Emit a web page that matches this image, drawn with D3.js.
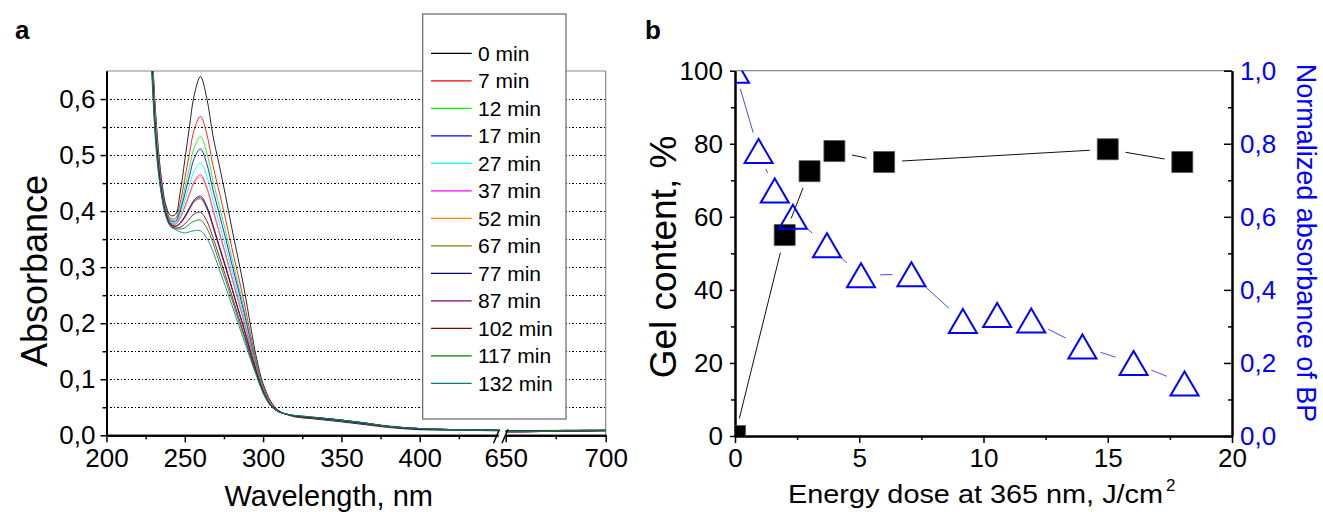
<!DOCTYPE html>
<html><head><meta charset="utf-8">
<script src="https://cdn.jsdelivr.net/npm/d3@7"></script>
<style>
body{margin:0;background:#fff}
svg{display:block}
text{font-family:"Liberation Sans",Arial,sans-serif}
</style>
</head><body>
<svg id="c" width="1323" height="512"></svg>
<script>
// ---------------- DATA ----------------
// Panel a: UV spectra (wavelength, nm -> absorbance)
const wavelengths = [226,229,232,235,238,241,244,247,250,253,256,260,264,268,272,276,280,284,288,292,296,300,305,310,316,322,330,340,350,365,380,400,425,450];
const wavelengthsFar = [650,660,670,680,690,700];
const timeLabels = ["0 min","7 min","12 min","17 min","27 min","37 min","52 min","67 min","77 min","87 min","102 min","117 min","132 min"];

const abs_0min   = [.90,.70,.55,.46,.41,.392,.394,.432,.491,.551,.607,.640,.602,.534,.482,.428,.370,.316,.260,.195,.135,.092,.060,.044,.036,.032,.030,.027,.024,.019,.014,.010,.009,.008];
const abs_7min   = [.89,.69,.545,.455,.405,.387,.387,.414,.458,.503,.545,.569,.538,.481,.434,.386,.335,.286,.236,.180,.127,.088,.058,.044,.037,.034,.032,.029,.027,.021,.016,.012,.010,.009];
const abs_12min  = [.89,.685,.54,.45,.402,.384,.384,.405,.441,.478,.513,.533,.505,.454,.410,.365,.317,.271,.224,.172,.123,.085,.057,.043,.037,.034,.032,.030,.027,.022,.016,.012,.010,.009];
const abs_17min  = [.885,.68,.535,.45,.401,.383,.381,.400,.430,.463,.494,.511,.485,.438,.395,.352,.306,.262,.217,.167,.120,.084,.056,.043,.037,.034,.032,.029,.026,.021,.016,.011,.010,.009];
const abs_27min  = [.88,.675,.53,.445,.399,.381,.379,.393,.418,.446,.472,.486,.463,.419,.378,.337,.294,.251,.209,.162,.118,.083,.055,.042,.037,.034,.032,.030,.027,.022,.016,.012,.010,.009];
const abs_37min  = [.88,.67,.525,.445,.397,.379,.377,.388,.408,.431,.453,.465,.443,.403,.363,.324,.283,.242,.201,.157,.115,.081,.055,.042,.037,.034,.032,.030,.027,.022,.016,.012,.010,.009];
const abs_52min  = [.88,.67,.525,.44,.397,.379,.376,.387,.407,.429,.450,.461,.440,.400,.361,.322,.281,.241,.200,.156,.115,.081,.055,.042,.037,.035,.033,.030,.027,.022,.017,.012,.010,.009];
const abs_67min  = [.875,.665,.52,.44,.394,.376,.373,.378,.388,.403,.416,.422,.405,.371,.335,.299,.262,.224,.187,.148,.111,.079,.053,.042,.037,.034,.032,.030,.027,.021,.016,.012,.010,.009];
const abs_77min  = [.875,.66,.515,.438,.395,.377,.373,.379,.391,.406,.420,.427,.409,.375,.338,.302,.264,.226,.189,.149,.111,.079,.053,.042,.037,.034,.032,.029,.026,.021,.016,.011,.010,.009];
const abs_87min  = [.87,.66,.515,.436,.394,.376,.373,.378,.389,.404,.418,.424,.406,.373,.336,.300,.263,.225,.188,.148,.111,.079,.053,.042,.037,.034,.032,.030,.027,.021,.016,.012,.010,.009];
const abs_102min = [.87,.655,.51,.434,.392,.374,.370,.371,.377,.386,.395,.398,.383,.353,.319,.285,.250,.214,.179,.142,.108,.077,.053,.042,.037,.034,.032,.030,.027,.022,.016,.012,.010,.009];
const abs_117min = [.865,.65,.505,.432,.391,.373,.369,.368,.370,.377,.382,.384,.370,.343,.309,.277,.243,.208,.175,.139,.106,.076,.052,.042,.037,.035,.033,.030,.027,.022,.016,.012,.010,.009];
const abs_132min = [.86,.64,.50,.43,.39,.372,.367,.363,.361,.363,.365,.365,.352,.328,.296,.265,.233,.200,.168,.135,.104,.075,.052,.042,.037,.035,.033,.030,.027,.022,.016,.012,.010,.009];

const absFar_0min   = [.006,.006,.007,.007,.007,.008];
const absFar_7min   = [.008,.008,.008,.009,.009,.009];
const absFar_12min  = [.007,.008,.008,.008,.009,.009];
const absFar_17min  = [.008,.007,.008,.008,.008,.009];
const absFar_27min  = [.007,.007,.008,.008,.009,.009];
const absFar_37min  = [.006,.007,.007,.008,.008,.008];
const absFar_52min  = [.008,.008,.009,.009,.009,.010];
const absFar_67min  = [.007,.007,.007,.008,.008,.009];
const absFar_77min  = [.008,.008,.008,.008,.009,.009];
const absFar_87min  = [.006,.006,.007,.007,.008,.008];
const absFar_102min = [.007,.008,.008,.008,.008,.009];
const absFar_117min = [.008,.007,.008,.009,.009,.009];
const absFar_132min = [.007,.007,.007,.008,.008,.008];

const yTicksA = [0,0.1,0.2,0.3,0.4,0.5,0.6];
const xTicksA = [200,250,300,350,400];
const xTicksAFar = [650,700];

// Panel b
const doseGel = [0,2,3,4,6,15,18];
const gelContent = [0,55,72.5,78,75,78.5,75];
const doseAbs = [0,0.95,1.6,2.33,3.7,5.07,7.1,9.17,10.55,11.92,13.98,16.04,18.09];
const normAbs = [1.0,0.78,0.672,0.60,0.522,0.44,0.443,0.315,0.331,0.316,0.245,0.20,0.144];
const xTicksB = [0,5,10,15,20];
const yTicksB = [0,20,40,60,80,100];
const yTicksB2 = [0,0.2,0.4,0.6,0.8,1.0];

// ---------------- STYLE ----------------
const palette = ["#000000","#ff0000","#00ff00","#0000ff","#00ffff","#ff00ff","#ff8000","#808000","#000080","#800080","#800000","#008000","#008080"];
const nearSeries = [abs_0min,abs_7min,abs_12min,abs_17min,abs_27min,abs_37min,abs_52min,abs_67min,abs_77min,abs_87min,abs_102min,abs_117min,abs_132min];
const farSeries = [absFar_0min,absFar_7min,absFar_12min,absFar_17min,absFar_27min,absFar_37min,absFar_52min,absFar_67min,absFar_77min,absFar_87min,absFar_102min,absFar_117min,absFar_132min];
const comma = d => d.toFixed(1).replace('.', ',');
const TICKFONT = 26;

const svg = d3.select("#c");

// ================= PANEL A =================
const PA = {l:106.5, r:605.7, t:71, b:435.3, br1:498, br2:505.7};
const xa1 = d3.scaleLinear().domain([200,450]).range([PA.l, PA.br1]);
const xa2 = d3.scaleLinear().domain([650,700]).range([PA.br2, PA.r]);
const ya = d3.scaleLinear().domain([0,0.65]).range([PA.b, PA.t]);

svg.append("clipPath").attr("id","clipA").append("rect")
  .attr("x",PA.l).attr("y",PA.t).attr("width",PA.r-PA.l).attr("height",PA.b-PA.t);

// dotted gridlines
const gridVals = d3.range(1,13).map(i => i*0.05);
svg.append("g").selectAll("line").data(gridVals).join("line")
  .attr("x1",PA.l).attr("x2",PA.r)
  .attr("y1",d=>Math.round(ya(d))+0.5).attr("y2",d=>Math.round(ya(d))+0.5)
  .attr("stroke","#000").attr("stroke-width",1).attr("stroke-dasharray","1.5,2")
  .attr("shape-rendering","crispEdges");

// frame (top / right gray)
svg.append("line").attr("x1",PA.l).attr("x2",PA.r).attr("y1",PA.t).attr("y2",PA.t).attr("stroke","#888").attr("stroke-width",1.2);
svg.append("line").attr("x1",PA.r).attr("x2",PA.r).attr("y1",PA.t).attr("y2",PA.b).attr("stroke","#888").attr("stroke-width",1.2);

// curves
const gCurves = svg.append("g").attr("clip-path","url(#clipA)");
const lineNear = d3.line().x(d=>xa1(d[0])).y(d=>ya(d[1])).curve(d3.curveCatmullRom.alpha(0.5));
const lineFar = d3.line().x(d=>xa2(d[0])).y(d=>ya(d[1])).curve(d3.curveCatmullRom.alpha(0.5));
nearSeries.forEach((s,i)=>{
  gCurves.append("path").attr("d", lineNear(wavelengths.map((w,j)=>[w,s[j]])))
    .attr("fill","none").attr("stroke",palette[i]).attr("stroke-width",1).attr("stroke-opacity",0.85);
  gCurves.append("path").attr("d", lineFar(wavelengthsFar.map((w,j)=>[w,farSeries[i][j]])))
    .attr("fill","none").attr("stroke",palette[i]).attr("stroke-width",1).attr("stroke-opacity",0.85);
});

function styleAxis(g, color){
  g.selectAll(".domain").attr("stroke","#000").attr("stroke-width",2);
  g.selectAll(".tick line").attr("stroke","#000").attr("stroke-width",1.5);
  g.selectAll("text").attr("font-size",TICKFONT).attr("font-family",'"Liberation Sans",Arial,sans-serif').attr("fill",color||"#000");
}

// x axis (two segments)
const gxa1 = svg.append("g").attr("transform",`translate(0,${PA.b})`)
  .call(d3.axisBottom(xa1).tickValues(xTicksA).tickSize(7).tickSizeOuter(0).tickPadding(6));
styleAxis(gxa1);
const gxa1m = svg.append("g").attr("transform",`translate(0,${PA.b})`)
  .call(d3.axisBottom(xa1).tickValues([225,275,325,375,425]).tickSize(4).tickSizeOuter(0).tickFormat(""));
styleAxis(gxa1m);
const gxa2 = svg.append("g").attr("transform",`translate(0,${PA.b})`)
  .call(d3.axisBottom(xa2).tickValues(xTicksAFar).tickSize(7).tickSizeOuter(0).tickPadding(6));
styleAxis(gxa2);
const gxa2m = svg.append("g").attr("transform",`translate(0,${PA.b})`)
  .call(d3.axisBottom(xa2).tickValues([675]).tickSize(4).tickSizeOuter(0).tickFormat(""));
styleAxis(gxa2m);
// break marks
[0,8.5].forEach(dx=>{
  svg.append("line").attr("x1",PA.br1-4.5+dx).attr("y1",PA.b+8).attr("x2",PA.br1+1.5+dx).attr("y2",PA.b-6)
    .attr("stroke","#000").attr("stroke-width",1.5);
});

// y axis
const gya = svg.append("g").attr("transform",`translate(${PA.l},0)`)
  .call(d3.axisLeft(ya).tickValues(yTicksA).tickFormat(comma).tickSize(6).tickSizeOuter(0).tickPadding(5));
styleAxis(gya);
const gyam = svg.append("g").attr("transform",`translate(${PA.l},0)`)
  .call(d3.axisLeft(ya).tickValues([0.05,0.15,0.25,0.35,0.45,0.55]).tickSize(4).tickSizeOuter(0).tickFormat(""));
styleAxis(gyam);

// legend
const leg = svg.append("g");
leg.append("rect").attr("x",422.7).attr("y",14).attr("width",143.3).attr("height",405)
  .attr("fill","#fff").attr("stroke","#666").attr("stroke-width",1.2);
timeLabels.forEach((t,i)=>{
  const y = 53.3 + i*27.5;
  leg.append("line").attr("x1",431).attr("x2",471.7).attr("y1",y).attr("y2",y)
    .attr("stroke",palette[i]).attr("stroke-width",1.2);
  leg.append("text").attr("x",478).attr("y",y+7.5).attr("font-size",21).text(t);
});

// titles
svg.append("text").attr("x",15).attr("y",39).attr("font-size",26).attr("font-weight","bold").text("a");
svg.append("text").attr("transform","translate(47,271) rotate(-90)").attr("text-anchor","middle")
  .attr("font-size",36).text("Absorbance");
svg.append("text").attr("x",433).attr("y",506).attr("text-anchor","end").attr("font-size",29).text("Wavelength, nm");

// ================= PANEL B =================
const PB = {l:735, r:1232, t:70.7, b:436};
const xb = d3.scaleLinear().domain([0,20]).range([PB.l,PB.r]);
const yb = d3.scaleLinear().domain([0,100]).range([PB.b,PB.t]);
const yb2 = d3.scaleLinear().domain([0,1]).range([PB.b,PB.t]);

svg.append("clipPath").attr("id","clipB").append("rect")
  .attr("x",PB.l).attr("y",PB.t).attr("width",PB.r-PB.l).attr("height",PB.b-PB.t);

svg.append("line").attr("x1",PB.l).attr("x2",PB.r).attr("y1",PB.t).attr("y2",PB.t).attr("stroke","#888").attr("stroke-width",1.2);

const gxb = svg.append("g").attr("transform",`translate(0,${PB.b})`)
  .call(d3.axisBottom(xb).tickValues(xTicksB).tickSize(7).tickSizeOuter(0).tickPadding(6));
styleAxis(gxb);
const gxbm = svg.append("g").attr("transform",`translate(0,${PB.b})`)
  .call(d3.axisBottom(xb).tickValues([2.5,7.5,12.5,17.5]).tickSize(4).tickSizeOuter(0).tickFormat(""));
styleAxis(gxbm);

const gyb = svg.append("g").attr("transform",`translate(${PB.l},0)`)
  .call(d3.axisLeft(yb).tickValues(yTicksB).tickSize(5).tickSizeOuter(0).tickPadding(7));
styleAxis(gyb);
const gybm = svg.append("g").attr("transform",`translate(${PB.l},0)`)
  .call(d3.axisLeft(yb).tickValues([10,30,50,70,90]).tickSize(4).tickSizeOuter(0).tickFormat(""));
styleAxis(gybm);

const gyb2 = svg.append("g").attr("transform",`translate(${PB.r},0)`)
  .call(d3.axisRight(yb2).tickValues(yTicksB2).tickFormat(comma).tickSizeInner(-8).tickSizeOuter(0).tickPadding(8));
styleAxis(gyb2,"#0000ff");
const gyb2m = svg.append("g").attr("transform",`translate(${PB.r},0)`)
  .call(d3.axisRight(yb2).tickValues([0.1,0.3,0.5,0.7,0.9]).tickSizeInner(-4).tickSizeOuter(0).tickFormat(""));
styleAxis(gyb2m);

// connecting lines with gaps around markers
function gapLines(g, pts, gap, color, width){
  for(let i=0;i<pts.length-1;i++){
    const [x1,y1]=pts[i],[x2,y2]=pts[i+1];
    const dx=x2-x1, dy=y2-y1, L=Math.hypot(dx,dy);
    if(L<=2*gap) continue;
    const ux=dx/L, uy=dy/L;
    g.append("line").attr("x1",x1+ux*gap).attr("y1",y1+uy*gap)
      .attr("x2",x2-ux*gap).attr("y2",y2-uy*gap)
      .attr("stroke",color).attr("stroke-width",width);
  }
}
const gB = svg.append("g").attr("clip-path","url(#clipB)");
const gelPts = doseGel.map((d,i)=>[xb(d), yb(gelContent[i])]);
const absPts = doseAbs.map((d,i)=>[xb(d), yb2(normAbs[i])]);
gapLines(gB, gelPts, 18, "#111", 1);
gapLines(gB, absPts, 19, "#3535ff", 0.9);

// squares
const sq = d3.symbol().type(d3.symbolSquare).size(21*21);
gB.selectAll("path.sq").data(gelPts).join("path").attr("class","sq")
  .attr("transform",d=>`translate(${d[0]},${d[1]})`).attr("d",sq())
  .attr("fill","#000").attr("stroke","#555").attr("stroke-width",0.8);
// open triangles (bounding-box centred)
gB.selectAll("path.tri").data(absPts).join("path").attr("class","tri")
  .attr("transform",d=>`translate(${d[0]},${d[1]})`).attr("d","M0,-12L14,12L-14,12Z")
  .attr("fill","none").attr("stroke","#0000ff").attr("stroke-width",2);

svg.append("text").attr("x",645).attr("y",39).attr("font-size",26).attr("font-weight","bold").text("b");
svg.append("text").attr("transform","translate(676,257) rotate(-90)").attr("text-anchor","middle")
  .attr("font-size",37).text("Gel content, %");
svg.append("text").attr("x",788).attr("y",503).attr("font-size",26)
  .attr("textLength",375).attr("lengthAdjust","spacingAndGlyphs").text("Energy dose at 365 nm, J/cm");
svg.append("text").attr("x",1166).attr("y",491).attr("font-size",17).text("2");
svg.append("text").attr("transform","translate(1297,243) rotate(90)").attr("text-anchor","middle")
  .attr("font-size",27).attr("fill","#0000ff").text("Normalized absorbance of BP");
</script>
</body></html>
